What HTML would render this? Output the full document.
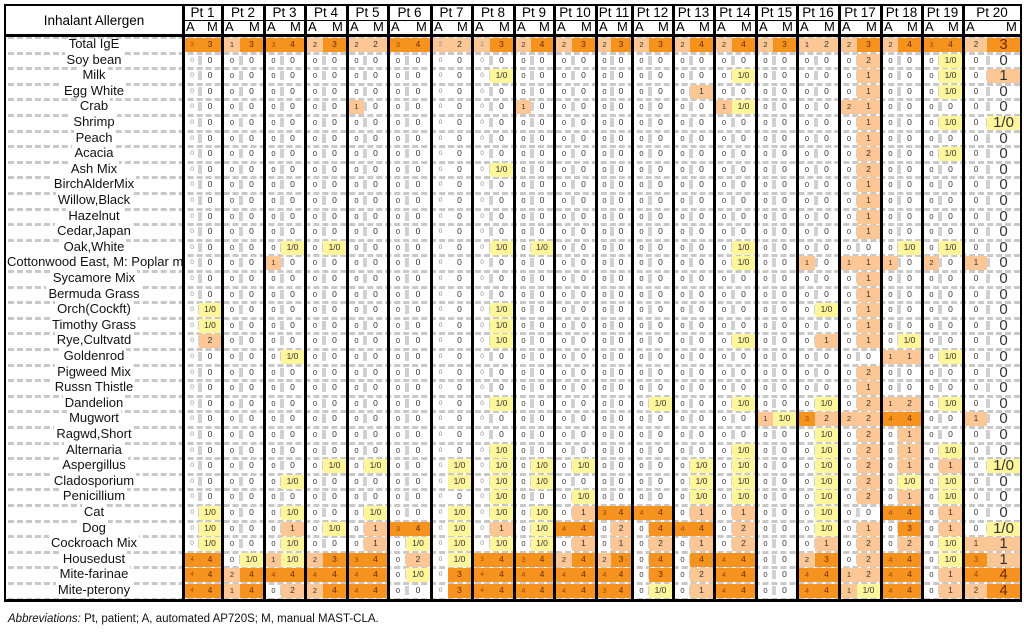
<!DOCTYPE html>
<html><head><meta charset="utf-8"><style>
body{margin:0;width:1024px;height:634px;background:#fff;font-family:"Liberation Sans",Arial,sans-serif;position:relative;overflow:hidden}
.a{position:absolute}
.t{position:absolute;text-align:center;white-space:nowrap}
</style></head><body>
<div id="root"></div>
<div class="a" style="left:8px;top:613px;font-size:11.5px;color:#111">
<i>Abbreviations:</i> Pt, patient; A, automated AP720S; M, manual MAST-CLA.</div>
<script>
const B=[5,183,222,264,305,347,388,431,472,514,554,596,632,673,714,756,797,839,881,922,963,1021];
const names=["Total IgE","Soy  bean","Milk","Egg White","Crab","Shrimp","Peach","Acacia","Ash Mix","BirchAlderMix","Willow,Black","Hazelnut","Cedar,Japan","Oak,White","Cottonwood East, M: Poplar m","Sycamore Mix","Bermuda Grass","Orch(Cockft)","Timothy Grass","Rye,Cultvatd","Goldenrod","Pigweed Mix","Russn Thistle","Dandelion","Mugwort","Ragwd,Short","Alternaria","Aspergillus","Cladosporium","Penicillium","Cat","Dog","Cockroach Mix","Housedust","Mite-farinae","Mite-pterony"];
const ex={
0:"1A3 1M3 2A1 2M3 3A3 3M4 4A2 4M3 5A2 5M2 6A3 6M4 7A2 7M2 8A2 8M3 9A2 9M4 10A2 10M3 11A2 11M3 12A2 12M3 13A2 13M4 14A2 14M4 15A2 15M3 16A1 16M2 17A2 17M3 18A2 18M4 19A3 19M4 20A2 20M3",
1:"17M2 19M1/0",2:"8M1/0 14M1/0 17M1 19M1/0 20M1",3:"13M1 17M1 19M1/0",4:"5A1 9A1 14A1 14M1/0 17A2 17M1",
5:"17M1 19M1/0 20M1/0",6:"17M1",7:"17M2 19M1/0",8:"8M1/0 17M2",9:"17M1",10:"17M1",11:"17M1",12:"17M1",
13:"3M1/0 4M1/0 8M1/0 9M1/0 14M1/0 18M1/0 19M1/0",14:"3A1 14M1/0 16A1 17A1 17M1 18A1 19A2 20A1",15:"17M1",16:"17M1",
17:"1M1/0 8M1/0 16M1/0 17M1",18:"1M1/0 8M1/0 17M1",19:"1M2 8M1/0 14M1/0 16M1 17M1 18M1/0",20:"3M1/0 18A1 18M1 19M1/0",
21:"17M2",22:"17M1",23:"8M1/0 12M1/0 14M1/0 16M1/0 17M2 18A1 18M2 19M1/0",24:"15A1 15M1/0 16A3 16M2 17A2 17M2 18A4 18M4 20A1",
25:"16M1/0 17M2 18M1",26:"8M1/0 14M1/0 16M1/0 17M2 18M1 19M1/0",
27:"4M1/0 5M1/0 7M1/0 8M1/0 9M1/0 10M1/0 13M1/0 14M1/0 16M1/0 17M2 18M1 19M1 20M1/0",
28:"3M1/0 7M1/0 8M1/0 9M1/0 13M1/0 14M1/0 16M1/0 17M2 18M1/0 19M1/0",
29:"8M1/0 10M1/0 13M1/0 14M1/0 16M1/0 17M2 18M1 19M1/0",
30:"1M1/0 3M1/0 5M1/0 7M1/0 8M1/0 9M1/0 10M1 11A3 11M4 12A4 12M4 13M1 14M1 16M1/0 18A4 18M4 19M1",
31:"1M1/0 3M1 4M1/0 5M1 6A3 6M4 7M1/0 8M1 9M1/0 10A4 10M4 11M2 12M4 13A4 13M4 14M2 16M1/0 17M1 18M3 19M1 20M1/0",
32:"1M1/0 3M1/0 5M1 6M1/0 7M1/0 8M1/0 9M1/0 10M1 11M1 12M2 13M1 14M2 16M1 17M2 18M2 19M1/0 20A1 20M1",
33:"1A4 1M4 2M1/0 3A1 3M1/0 4A2 4M3 5A3 5M4 6M2 7M1/0 8A3 8M4 9A3 9M4 10A2 10M4 11A2 11M3 12M4 13M4 14A4 14M4 16A2 16M3 17M2 18A4 18M4 19M1/0 20A3 20M1",
34:"1A4 1M4 2A2 2M4 3A4 3M4 4A4 4M4 5A4 5M4 6M1/0 7M3 8A4 8M4 9A4 9M4 10A4 10M4 11A4 11M4 12M3 13M2 14A4 14M4 16A4 16M4 17A1 17M2 18A4 18M4 19M1 20A4 20M4",
35:"1A4 1M4 2A1 2M4 3M2 4A2 4M4 5A4 5M4 7M3 8A4 8M4 9A4 9M4 10A4 10M4 11A3 11M4 12M1/0 13M1 14A4 14M4 16A4 16M4 17A1 17M1/0 18A4 18M4 19M1 20A2 20M4"};
let h="";
const RH=15.6,Y0=37;
const add=s=>h+=s;
add(`<div class="t" style="left:5px;top:6px;width:178px;height:29px;line-height:29px;font-size:13.5px">Inhalant Allergen</div>`);
for(let p=1;p<=20;p++){const x0=B[p],x1=B[p+1],w=x1-x0;
 add(`<div class="t" style="left:${x0}px;top:5px;width:${w}px;height:15px;line-height:16px;font-size:13.5px">Pt ${p}</div>`);
 add(`<div class="a" style="left:${x0}px;top:20px;width:${w}px;height:1px;background:#000"></div>`);
 add(`<div class="a" style="left:${x0+3}px;top:20px;font-size:13px;line-height:14px">A</div>`);
 add(`<div class="a" style="left:${x1-15}px;top:20px;font-size:13px;line-height:14px">M</div>`);
}
for(let i=0;i<=36;i++){const y=Math.round(Y0+i*RH)-1;
 add(`<div class="a" style="left:8px;top:${y}px;width:1012px;height:0;border-top:3px dashed #c8c8c8"></div>`);}
for(let p=1;p<=20;p++){if(p==7)continue;const xm=Math.round(B[p]+(B[p+1]-B[p])*0.42);
 for(let i=0;i<36;i++){const y=Y0+i*RH;add(`<div class="a" style="left:${xm-1}px;top:${(y+3).toFixed(1)}px;width:4px;height:9px;background:#d0d0d0"></div>`);}}
for(let i=0;i<36;i++){const y=Y0+i*RH;
 add(`<div class="t" style="left:5px;top:${(y-1).toFixed(1)}px;width:178px;height:${RH}px;line-height:${RH}px;font-size:13px;color:#111"><span style="background:${i==0?'transparent':'#fff'};padding:0 2px">${names[i]}</span></div>`);
 const m={};(ex[i]||"").split(" ").filter(Boolean).forEach(s=>{const r=s.match(/^(\d+)([AM])(.+)$/);m[r[1]+r[2]]=r[3];});
 for(let p=1;p<=20;p++){const x0=B[p]+2,x1=B[p+1]-1,xm=Math.round(B[p]+(B[p+1]-B[p])*0.42);
  [["A",x0,xm],["M",xm,x1]].forEach(([k,a,b])=>{const v=m[p+k]||"0";
   let bg="";if(v=="3"||v=="4")bg="#f6931f";else if(v=="1"||v=="2")bg="#fcc795";else if(v=="1/0")bg="#fff59a";
   if(bg)add(`<div class="a" style="left:${a}px;top:${(y+1).toFixed(1)}px;width:${b-a}px;height:${RH-1.5}px;background:${bg}"></div>`);
   let fs=k=="A"?7.5:8.5,col="#333";
   if(k=="A"&&(p==1||p==7||p==8)){fs=6.5;col="#888";}
   if(p==20){fs=k=="M"?15:8;}
   if(v=="3"||v=="4")col=k=="A"?"#a04a00":"#6a2a00";
   add(`<div class="t" style="left:${a}px;top:${y.toFixed(1)}px;width:${b-a}px;height:${RH}px;line-height:${RH}px;font-size:${fs}px;color:${col}">${v}</div>`);
  });}
}
if(true){}
B.forEach((x,j)=>{const w=(j==0||j==B.length-1)?2:3;add(`<div class="a" style="left:${x-1}px;top:5px;width:${w}px;height:597px;background:#000"></div>`);});
add(`<div class="a" style="left:4px;top:4px;width:1018px;height:2px;background:#000"></div>`);
add(`<div class="a" style="left:4px;top:34px;width:1018px;height:3px;background:#000"></div>`);
add(`<div class="a" style="left:4px;top:599px;width:1018px;height:3px;background:#000"></div>`);
document.getElementById("root").innerHTML=h;
</script>
</body></html>
